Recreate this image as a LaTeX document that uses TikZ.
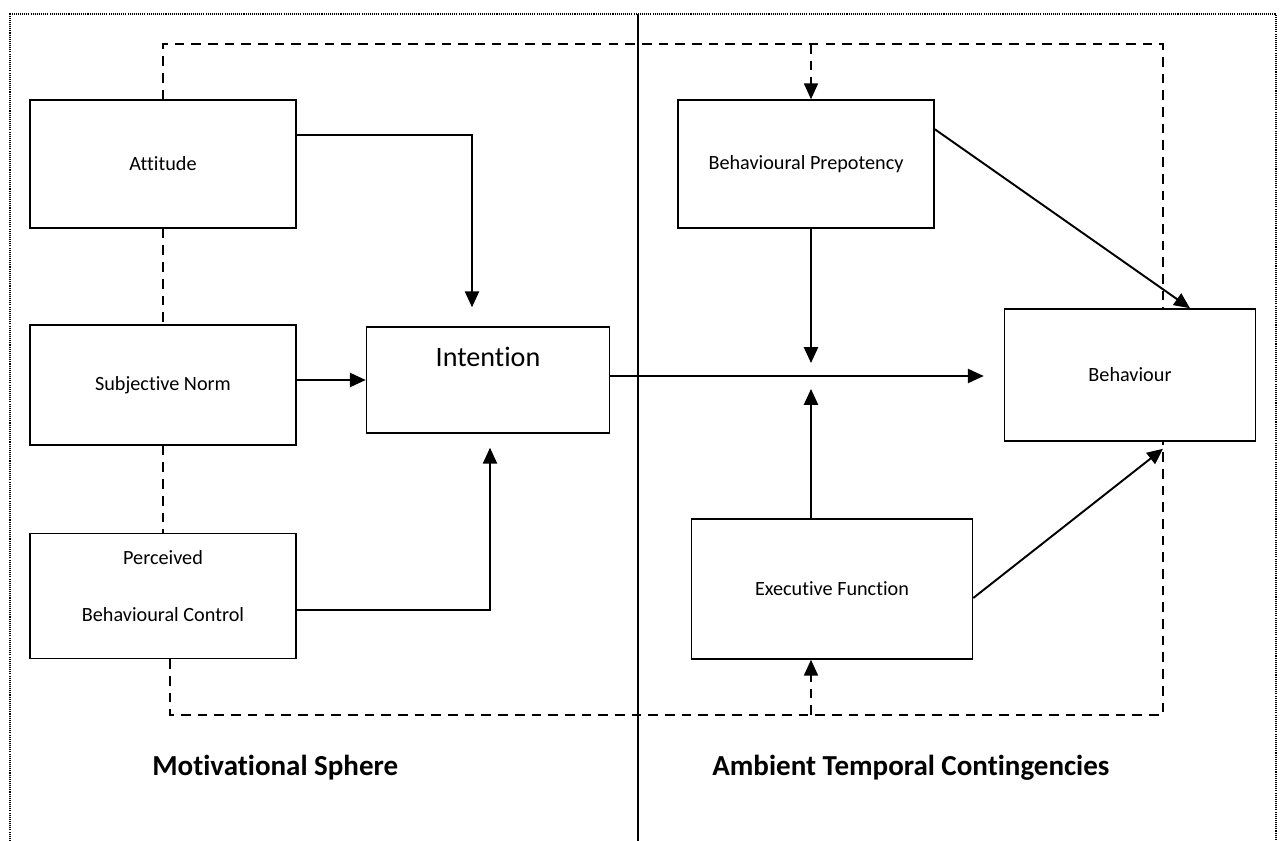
\documentclass[tikz,border=0pt]{standalone}
\usepackage{fontspec}
\setmainfont{Carlito}[Ligatures=NoCommon]
\usetikzlibrary{arrows.meta}
\tikzset{
  box/.style={draw, line width=0.9pt, inner sep=2pt, align=center,
    font=\fontsize{11.5}{14}\selectfont},
  arr/.style={line width=1.1pt, -{Triangle[length=9pt,width=8pt]}},
  fb/.style={line width=0.9pt, dash pattern=on 5.5pt off 4pt},
  title/.style={anchor=base west, inner sep=0pt, font=\fontsize{16.5}{19}\selectfont\bfseries}
}
\begin{document}
\begin{tikzpicture}[x=0.02cm,y=-0.02cm]
      \useasboundingbox (0,0) rectangle (1285,841);
      % frame and divider
      \draw[line width=0.6pt, dash pattern=on 0.6pt off 0.6pt]
        (10,841) -- (10,14) -- (1276,14) -- (1276,841);
      \draw[line width=0.8pt] (638,14) -- (638,841);
      % boxes
      \node[box, minimum width=5.32cm, minimum height=2.56cm] (att) at (163,164) {Attitude};
      \node[box, minimum width=5.32cm, minimum height=2.4cm] (sn) at (163,385) {Subjective Norm};
      \node[box, minimum width=5.32cm, minimum height=2.5cm,
        label={[align=center,yshift=0.2cm,font=\fontsize{11.5}{14}\selectfont]center:Perceived\\[0.66cm]Behavioural Control}] (pbc) at (163,596) {};
      \node[box, minimum width=4.86cm, minimum height=2.12cm,
        label={[anchor=center,yshift=-0.62cm,font=\fontsize{16}{19}\selectfont]north:Intention}] (int) at (488,380) {};
      \node[box, minimum width=5.12cm, minimum height=2.56cm] (bp) at (806,164) {Behavioural Prepotency};
      \node[box, minimum width=5.02cm, minimum height=2.64cm] (beh) at (1130,375) {Behaviour};
      \node[box, minimum width=5.62cm, minimum height=2.8cm] (ef) at (832,589) {Executive Function};
      \node[title] (ms) at (152,775) {Motivational Sphere};
      \node[title] (atc) at (712,775) {Ambient Temporal Contingencies};
      % helper points
      \coordinate (rtop) at (1163,44);
      \coordinate (lbot) at (170,715);
      \coordinate (mid) at (811,376);
      \coordinate (a1) at (472,135);
      \coordinate (a2) at (490,610);
      % feedback loops
      \begin{scope}[fb]
        \draw (att.north) |- (rtop) -- (rtop |- beh.north);
        \draw (att.south) -- (sn.north);
        \draw (sn.south) -- (pbc.north);
        \draw (lbot |- pbc.south) -- (lbot) -| (rtop |- beh.south);
      \end{scope}
      \draw[fb, -{Triangle[length=9pt,width=8pt]}] (mid |- rtop) -- (mid |- bp.north);
      \draw[fb, -{Triangle[length=9pt,width=8pt]}] (mid |- lbot) -- (mid |- ef.south);
      % main paths
      \draw[arr, shorten >=0.38cm] (att.east |- a1) -- (a1) -- (a1 |- int.north);
      \draw[arr] (int.west -| sn.east) -- (int.west);
      \draw[arr, shorten >=0.28cm] (pbc.east |- a2) -- (a2) -- (a2 |- int.south);
      \draw[arr, shorten >=0.4cm] (int.east |- mid) -- (beh.west |- mid);
      \draw[arr, shorten >=0.26cm] (mid |- bp.south) -- (mid);
      \draw[arr, shorten >=0.26cm] (mid |- ef.north) -- (mid);
      \draw[arr] ([yshift=-0.6cm]bp.north east) -- ([xshift=1.2cm]beh.north);
      \draw[arr] ([yshift=-0.18cm]ef.east) -- ([xshift=0.66cm,yshift=-0.14cm]beh.south);
\end{tikzpicture}
\end{document}
